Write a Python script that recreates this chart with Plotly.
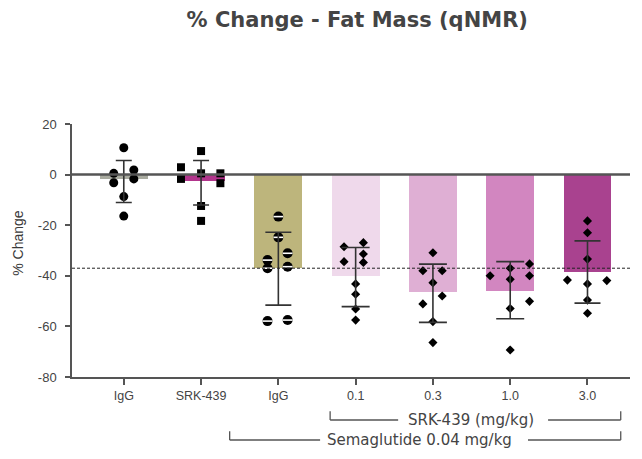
import plotly.graph_objects as go

# ---------------- data ----------------
categories = ["IgG", "SRK-439", "IgG", "0.1", "0.3", "1.0", "3.0"]
bar_means = [-1.6, -2.5, -36.8, -40.0, -46.4, -46.0, -38.3]
err_center = [-2.7, -3.2, -37.2, -40.5, -46.9, -45.7, -38.5]
err_sd = [8.3, 8.8, 14.4, 11.7, 11.5, 11.3, 12.3]

pts_igg = [10.6, 0.5, 1.8, -3.2, -1.7, -8.7, -16.4]
pts_srk = [9.3, 2.9, 0.5, 0.5, -1.7, -3.4, -12.4, -18.3]
pts_sema_igg = [-16.6, -24.8, -31.1, -33.8, -37.0, -36.4, -57.9, -57.5]
pts_01 = [-28.5, -26.9, -31.4, -34.4, -34.7, -43.2, -47.3, -53.1, -57.5]
pts_03 = [-30.9, -38.0, -38.0, -42.7, -48.0, -51.1, -58.1, -66.4]
pts_10 = [-35.3, -37.0, -40.0, -40.0, -41.4, -50.1, -52.9, -69.3]
pts_30 = [-18.3, -23.0, -33.4, -41.7, -43.2, -41.9, -49.6, -54.8]

y_ticks = [20, 0, -20, -40, -60, -80]
y_tick_text = ["20", "0", "-20", "-40", "-60", "-80"]
ref_line = -37.0

# ---------------- styling ----------------
jitter = [
    [0, -0.13, 0.13, -0.13, 0.13, 0, 0],
    [0, -0.26, 0, 0.25, -0.26, 0.25, 0, 0],
    [0, 0, 0.12, -0.14, -0.14, 0.12, -0.14, 0.12],
    [-0.15, 0.1, 0.1, -0.15, 0.1, 0, 0, 0, 0],
    [0, -0.13, 0.12, 0, 0.12, -0.13, 0, 0],
    [0.25, 0, -0.26, 0.25, 0, 0.25, 0, 0],
    [0, 0, 0, -0.26, 0, 0.25, 0, 0],
]
point_sets = [pts_igg, pts_srk, pts_sema_igg, pts_01, pts_03, pts_10, pts_30]
symbols = ["circle", "square", "circle", "diamond", "diamond", "diamond", "diamond"]
sizes = [9, 8, 10, 7, 7, 7, 7]
bar_colors = ["#a9aba0", "#b2358c", "#bdb57c", "#efd9eb", "#dfafd4", "#d286c0", "#a9428f"]
cap_w = [8, 8, 13, 14, 14, 14, 13]

fig = go.Figure()

xs = list(range(len(categories)))
fig.add_trace(go.Bar(x=xs, y=bar_means, width=0.62, marker=dict(color=bar_colors, line=dict(width=0)),
                     showlegend=False, hoverinfo="skip"))

for i, pts in enumerate(point_sets):
    px = [i + j for j in jitter[i][:len(pts)]]
    fig.add_trace(go.Scatter(x=px, y=pts, mode="markers", showlegend=False,
                             marker=dict(symbol=symbols[i], size=sizes[i], color="black",
                                         line=dict(width=0))))
    if i == 2:
        fig.add_trace(go.Scatter(x=px, y=pts, mode="markers", showlegend=False,
                                 marker=dict(symbol="line-ew", size=7,
                                             line=dict(width=1.6, color="white"))))

for i in range(len(categories)):
    fig.add_trace(go.Scatter(x=[i], y=[err_center[i]], mode="markers", showlegend=False,
                             marker=dict(size=1, color="rgba(0,0,0,0)"),
                             error_y=dict(type="data", array=[err_sd[i]], visible=True,
                                          color="#333333", thickness=1.6, width=cap_w[i])))

# reference lines
fig.add_shape(type="line", xref="paper", yref="y", x0=0, x1=1, y0=0, y1=0,
              line=dict(color="#555555", width=2.5))
fig.add_shape(type="line", xref="paper", yref="y", x0=0, x1=1, y0=ref_line, y1=ref_line,
              line=dict(color="#222222", width=1, dash="3px,2px"))

# brackets
br_col = "#555555"
def seg(x0, x1, y0, y1):
    fig.add_shape(type="line", xref="x", yref="paper", x0=x0, x1=x1, y0=y0, y1=y1,
                  line=dict(color=br_col, width=1.3))

lab_font = dict(family="DejaVu Sans", size=15, color="#444444")
# SRK-439 bracket
yb1 = -0.17
seg(2.67, 2.67, yb1, yb1 + 0.035)
seg(2.67, 3.55, yb1, yb1)
seg(5.49, 6.43, yb1, yb1)
seg(6.43, 6.43, yb1, yb1 + 0.035)
fig.add_annotation(x=4.49, y=yb1, xref="x", yref="paper", text="SRK-439 (mg/kg)", showarrow=False,
                   font=lab_font, yanchor="middle")
# Semaglutide bracket
yb2 = -0.249
seg(1.37, 1.37, yb2, yb2 + 0.035)
seg(1.37, 2.54, yb2, yb2)
seg(5.23, 6.43, yb2, yb2)
seg(6.43, 6.43, yb2, yb2 + 0.035)
fig.add_annotation(x=3.83, y=yb2, xref="x", yref="paper", text="Semaglutide 0.04 mg/kg", showarrow=False,
                   font=lab_font, yanchor="middle")

fig.add_annotation(x=-0.097, y=0.53, xref="paper", yref="paper", text="% Change", showarrow=False,
                   xanchor="center", yanchor="middle",
                   textangle=-90, font=dict(family="Liberation Sans", size=14, color="#3a3a3a"))

fig.update_layout(
    width=642, height=459,
    margin=dict(l=64, r=20, t=116, b=90),
    paper_bgcolor="white", plot_bgcolor="white",
    title=dict(text="<b>% Change - Fat Mass (qNMR)</b>", x=0.544, xanchor="center", y=0.974, yanchor="middle",
               font=dict(family="DejaVu Sans", size=21, color="#444444")),
    bargap=0,
    xaxis=dict(range=[-0.67, 6.55], tickmode="array", tickvals=xs, ticktext=categories,
               showline=True, linecolor="#555555", linewidth=1.5, ticks="outside", ticklen=6,
               tickcolor="#555555", tickwidth=1.5, showgrid=False, zeroline=False,
               tickfont=dict(family="Liberation Sans", size=12.5, color="#444444")),
    yaxis=dict(range=[-80, 20], tickmode="array", tickvals=y_ticks, ticktext=y_tick_text,
               showline=True, linecolor="#555555", linewidth=1.5, ticks="outside", ticklen=5,
               tickcolor="#555555", tickwidth=1.5, showgrid=False, zeroline=False,
               ticklabelstandoff=6,
               tickfont=dict(family="Liberation Sans", size=13, color="#444444")),
)

fig.write_html("out.html")
